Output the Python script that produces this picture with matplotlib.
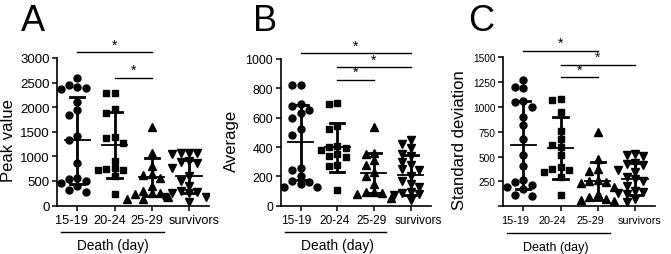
import numpy as np
import matplotlib
matplotlib.use("Agg")
import matplotlib.pyplot as plt

plt.rcParams['font.family'] = ['Liberation Sans', 'DejaVu Sans']

categories = ["15-19", "20-24", "25-29", "survivors"]

# Panel A: Peak value
a_1519 = [2590, 2450, 2410, 2390, 2370, 2100, 1950, 1850, 1420, 1340, 870, 560, 530, 490, 450, 400, 320, 280]
a_2024 = [2280, 2280, 1960, 1880, 1400, 1370, 1280, 910, 760, 740, 730, 720, 600, 230]
a_2529 = [1600, 1070, 800, 640, 620, 560, 400, 300, 260, 250, 240, 170, 140, 130]
a_surv = [1070, 1060, 1060, 1040, 900, 880, 860, 760, 600, 500, 400, 290, 270, 260, 250, 180, 170, 80]
a_mean = [1330, 1235, 580, 593]
a_sd = [886, 670, 390, 341]
a_sig = [(0, 2, 3120), (1, 2, 2600)]

# Panel B: Average
b_1519 = [825, 820, 690, 680, 650, 635, 600, 525, 480, 260, 240, 200, 165, 160, 150, 125, 125]
b_2024 = [700, 690, 540, 520, 410, 400, 390, 380, 350, 340, 330, 280, 270, 105]
b_2529 = [535, 360, 355, 310, 280, 230, 200, 150, 95, 90, 85, 80, 50]
b_surv = [450, 420, 390, 350, 340, 300, 280, 250, 240, 200, 170, 150, 130, 90, 85, 80, 75, 40]
b_mean = [432, 398, 223, 209]
b_sd = [257, 168, 134, 136]
b_sig = [(0, 3, 1041), (1, 3, 943), (1, 2, 859)]

# Panel C: Standard deviation
c_1519 = [1270, 1200, 1190, 1060, 1050, 1000, 900, 820, 680, 520, 410, 260, 240, 210, 190, 170, 110, 100]
c_2024 = [1080, 1070, 950, 760, 680, 620, 600, 520, 400, 380, 370, 350, 300, 110]
c_2529 = [745, 480, 380, 360, 260, 250, 240, 230, 190, 120, 90, 70, 60, 50]
c_surv = [530, 520, 510, 440, 430, 420, 370, 350, 300, 270, 250, 200, 150, 140, 130, 120, 70, 40]
c_mean = [617, 591, 258, 275]
c_sd = [440, 312, 192, 161]
c_sig = [(0, 2, 1567), (1, 3, 1426), (1, 2, 1299)]

W, H = 671, 255
fig = plt.figure(figsize=(W / 100, H / 100), dpi=100)

markers = ['o', 's', '^', 'v']
msizes = [5.0, 4.6, 5.2, 5.2]


def beeswarm(ax, x0, vals, dx_px=8.3, dmin=7.2):
    trans = ax.transData
    inv = trans.inverted()
    order = np.argsort(vals)[::-1]
    placed = []
    xs = np.zeros(len(vals))
    for i in order:
        px, py = trans.transform((x0, vals[i]))
        cands = [0]
        for k in range(1, 8):
            cands += [-k, k]
        for c in cands:
            cx = px + c * dx_px
            ok = all((cx - qx) ** 2 + (py - qy) ** 2 >= dmin ** 2 for qx, qy in placed)
            if ok:
                placed.append((cx, py))
                xs[i] = inv.transform((cx, py))[0]
                break
    return xs


def panel(rect, groups, means, sds, sigs, ylim, yticks, yticklabels, ylabel, letter,
          letter_x, tick_fs, xtick_fs, ylabel_x, death_x, death_fs, label_shift):
    l, r, b, t = rect
    ax = fig.add_axes([l / W, 1 - b / H, (r - l) / W, (b - t) / H])
    ax.set_xlim(-0.54, 3.54)
    ax.set_ylim(*ylim)
    for s in ['top', 'right']:
        ax.spines[s].set_visible(False)
    for s in ['left', 'bottom']:
        ax.spines[s].set_linewidth(1.2)
    ax.set_yticks(yticks)
    ax.set_yticklabels(yticklabels, fontsize=tick_fs)
    ax.set_xticks(range(4))
    ax.set_xticklabels([])
    for i, (name, dx) in enumerate(zip(categories, label_shift)):
        ax.annotate(name, xy=(i, 0), xycoords=ax.get_xaxis_transform(),
                    xytext=(dx * 0.72, -6.0), textcoords='offset points',
                    ha='center', va='top', fontsize=xtick_fs, annotation_clip=False)
    ax.tick_params(axis='both', length=3.5, width=1.1, pad=2)
    ax.set_ylabel(ylabel, fontsize=12, va='center')
    ax.yaxis.set_label_coords(ylabel_x, 0.45)
    for i, vals in enumerate(groups):
        xs = beeswarm(ax, i, vals)
        ax.plot(xs, vals, linestyle='none', marker=markers[i], ms=msizes[i],
                color='black', zorder=3)
        m, sd = means[i], sds[i]
        ax.plot([i, i], [m - sd, m + sd], color='black', lw=2.0, zorder=4,
                solid_capstyle='butt')
        ax.plot([i - 0.19, i + 0.19], [m + sd, m + sd], color='black', lw=2.0, zorder=4)
        ax.plot([i - 0.19, i + 0.19], [m - sd, m - sd], color='black', lw=2.0, zorder=4)
        ax.plot([i - 0.34, i + 0.34], [m, m], color='black', lw=1.3, zorder=4)
    for (g1, g2, y) in sigs:
        ax.plot([g1, g2], [y, y], color='black', lw=1.0, clip_on=False)
        ax.annotate('*', xy=((g1 + g2) / 2, y), xytext=(0, 0.5), textcoords='offset points',
                    ha='center', va='bottom', fontsize=10, annotation_clip=False)
    ax.plot([-0.43, 2.32], [-0.18, -0.18], color='black', lw=1.0,
            transform=ax.get_xaxis_transform(), clip_on=False)
    ax.text(death_x, -0.27, 'Death (day)', transform=ax.get_xaxis_transform(),
            ha='center', va='center', fontsize=death_fs)
    fig.text(letter_x / W, 1 - 31 / H, letter, fontsize=26, ha='left', va='baseline')
    return ax


panel((57.3, 209, 206.5, 59), [a_1519, a_2024, a_2529, a_surv], a_mean, a_sd, a_sig,
      (0, 3000), list(range(0, 3001, 500)), [str(v) for v in range(0, 3001, 500)],
      'Peak value', 'A', 21, 9.5, 9.2, -0.32, 0.96, 9.8, [-6, -5, -5, 5])
panel((280.7, 430.5, 206.7, 60), [b_1519, b_2024, b_2529, b_surv], b_mean, b_sd, b_sig,
      (0, 1000), list(range(0, 1001, 200)), [str(v) for v in range(0, 1001, 200)],
      'Average', 'B', 253, 8.9, 8.6, -0.327, 1.0, 10, [-4, -3, -2, 8])
panel((503.3, 655, 207.3, 58.3), [c_1519, c_2024, c_2529, c_surv], c_mean, c_sd, c_sig,
      (0, 1500), list(range(0, 1501, 250)), [''] + [str(v) for v in range(250, 1501, 250)],
      'Standard deviation', 'C', 468, 7.3, 7.8, -0.29, 0.87, 9, [-8, -8, -7, 5])

fig.savefig('out.png', dpi=100)
